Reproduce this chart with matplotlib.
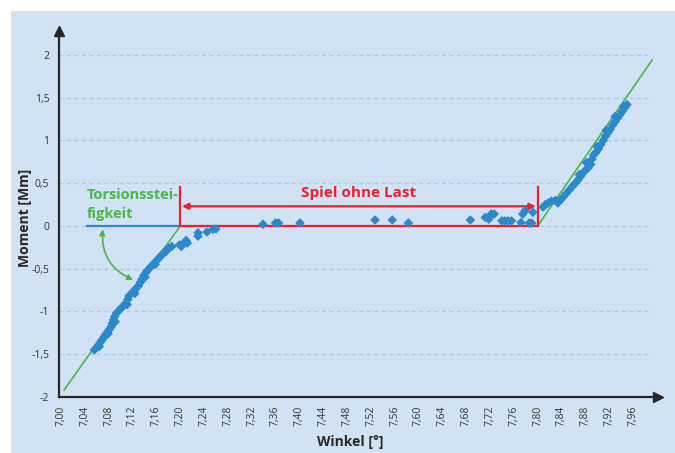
import matplotlib
matplotlib.use("Agg")
import matplotlib.pyplot as plt
from matplotlib.patches import Rectangle
from matplotlib.ticker import FuncFormatter

plt.rcParams['font.family'] = ['Open Sans', 'DejaVu Sans']

# measured points: Winkel [deg] / Moment [Mm]
angle_left = [7.056, 7.060, 7.063, 7.066, 7.069, 7.072, 7.075, 7.078, 7.081, 7.084,
              7.086, 7.088, 7.090, 7.093, 7.097, 7.101, 7.105, 7.109, 7.112, 7.114,
              7.118, 7.122, 7.126, 7.130, 7.133, 7.136, 7.139, 7.142, 7.145, 7.149,
              7.153, 7.157, 7.161, 7.165, 7.169, 7.173, 7.177, 7.181, 7.186, 7.199,
              7.202, 7.208, 7.210, 7.212, 7.230, 7.230, 7.245, 7.255, 7.260,
              7.064, 7.079, 7.091, 7.111, 7.124, 7.141, 7.158, 7.176]
moment_left = [-1.45, -1.42, -1.39, -1.36, -1.33, -1.30, -1.27, -1.24, -1.21, -1.18,
               -1.14, -1.10, -1.06, -1.02, -0.99, -0.96, -0.93, -0.90, -0.86, -0.82,
               -0.79, -0.76, -0.73, -0.70, -0.66, -0.62, -0.58, -0.55, -0.52, -0.49,
               -0.46, -0.43, -0.40, -0.37, -0.34, -0.31, -0.28, -0.26, -0.24, -0.22,
               -0.24, -0.19, -0.17, -0.20, -0.08, -0.12, -0.07, -0.04, -0.035,
               -1.41, -1.26, -1.12, -0.92, -0.79, -0.60, -0.45, -0.30]

angle_mid = [7.339, 7.360, 7.365, 7.401, 7.527, 7.556, 7.583, 7.687, 7.712, 7.718,
             7.722, 7.727, 7.740, 7.745, 7.750, 7.756, 7.772, 7.775, 7.779, 7.786,
             7.790, 7.792]
moment_mid = [0.02, 0.035, 0.035, 0.035, 0.07, 0.07, 0.035, 0.07, 0.10, 0.08,
              0.14, 0.14, 0.06, 0.06, 0.06, 0.06, 0.04, 0.14, 0.18, 0.035,
              0.035, 0.16]

angle_right = [7.809, 7.813, 7.818, 7.823, 7.830, 7.834, 7.838, 7.843, 7.848, 7.853,
               7.858, 7.863, 7.868, 7.872, 7.876, 7.880, 7.885, 7.889, 7.891, 7.894,
               7.898, 7.902, 7.906, 7.910, 7.914, 7.918, 7.922, 7.926, 7.930, 7.934,
               7.938, 7.942, 7.946, 7.950, 7.870, 7.882, 7.900, 7.915, 7.930, 7.944]
moment_right = [0.22, 0.25, 0.27, 0.29, 0.30, 0.27, 0.30, 0.34, 0.38, 0.42,
                0.46, 0.50, 0.54, 0.58, 0.62, 0.65, 0.68, 0.72, 0.78, 0.83,
                0.86, 0.90, 0.95, 1.00, 1.05, 1.09, 1.13, 1.18, 1.22, 1.26,
                1.30, 1.34, 1.38, 1.42, 0.60, 0.74, 0.93, 1.12, 1.28, 1.40]

# stiffness lines and play
stiff_left_x = [7.005, 7.20]
stiff_left_y = [-1.92, 0.0]
stiff_right_x = [7.80, 7.992]
stiff_right_y = [0.0, 1.94]
play_start, play_end = 7.20, 7.80

x_ticks = [7.00 + 0.04 * i for i in range(25)]
y_ticks = [-2, -1.5, -1, -0.5, 0, 0.5, 1, 1.5, 2]

blue = '#2b88cb'
green = '#4bb546'
red = '#e8212b'
bg = '#d0e2f3'
dark = '#262626'

fig = plt.figure(figsize=(6.75, 4.53), dpi=100, facecolor='white')
panel = Rectangle((11 / 675, 0), 1, 442 / 453, transform=fig.transFigure,
                  facecolor=bg, edgecolor='none', zorder=-10)
fig.add_artist(panel)

ax = fig.add_axes([59 / 675, 56 / 453, 599 / 675, 366 / 453])
ax.set_zorder(1)
ax.patch.set_alpha(0)
ax.set_xlim(6.9966, 8.002)
ax.set_ylim(-2, 2.28)

for s in ['top', 'right']:
    ax.spines[s].set_visible(False)
for s in ['left', 'bottom']:
    ax.spines[s].set_color(dark)
    ax.spines[s].set_linewidth(1.6)
ax.plot(1, -2, '>', color=dark, ms=7, transform=ax.get_yaxis_transform(), clip_on=False)
ax.plot(6.9966, 1, '^', color=dark, ms=7, transform=ax.get_xaxis_transform(), clip_on=False)

# grid
for yv in y_ticks[1:]:
    ax.plot([6.9966, 7.99], [yv, yv], ls=(0, (3, 3)), color='#a6c8e8', lw=0.9, zorder=1)

ax.set_xticks(x_ticks)
ax.set_yticks(y_ticks)
ax.xaxis.set_major_formatter(FuncFormatter(lambda v, p: f'{v:.2f}'.replace('.', ',')))
ax.yaxis.set_major_formatter(FuncFormatter(
    lambda v, p: ('%g' % v).replace('.', ',')))
ax.tick_params(axis='both', length=0, labelsize=7.5, colors='#333333')
ax.tick_params(axis='x', rotation=90, pad=6)
ax.tick_params(axis='y', pad=7)

ax.set_xlabel('Winkel [°]', fontsize=10, fontweight='bold', color=dark)
ax.set_ylabel('Moment [Mm]', fontsize=10, fontweight='bold', color=dark)
ax.xaxis.set_label_coords(0.486, -0.104)
ax.yaxis.set_label_coords(-0.045, 0.49)

# stiffness lines
ax.plot(stiff_left_x, stiff_left_y, color=green, lw=1.2, zorder=3)
ax.plot(stiff_right_x, stiff_right_y, color=green, lw=1.2, zorder=3)

# blue reference line
ax.plot([7.044, play_start], [0, 0], color=blue, lw=1.6, zorder=3)

# play region
ax.plot([play_start, play_start, play_end, play_end], [0.46, 0, 0, 0.46],
        color=red, lw=1.6, zorder=3)
ax.annotate('', xy=(play_end - 0.003, 0.23), xytext=(play_start + 0.003, 0.23),
            arrowprops=dict(arrowstyle='<|-|>', color=red, lw=1.6,
                            mutation_scale=9, shrinkA=0, shrinkB=0), zorder=4)
ax.text((play_start + play_end) / 2, 0.385, 'Spiel ohne Last', color=red,
        fontsize=11, fontweight='bold', ha='center', va='center')

# data
ax.scatter(angle_left + angle_mid + angle_right,
           moment_left + moment_mid + moment_right,
           marker='D', s=24, color=blue, edgecolors='none', zorder=5)

# annotation
ax.text(7.043, 0.36, 'Torsionsstei-', color=green, fontsize=10.5, fontweight='bold',
        ha='left', va='center')
ax.text(7.043, 0.14, 'figkeit', color=green, fontsize=10.5, fontweight='bold',
        ha='left', va='center')
ax.annotate('', xy=(7.121, -0.63), xytext=(7.070, -0.04),
            arrowprops=dict(arrowstyle='<|-|>', color=green, lw=1.2,
                            mutation_scale=8, shrinkA=0, shrinkB=0,
                            connectionstyle='arc3,rad=0.35'), zorder=4)

fig.savefig('out.png', dpi=100, facecolor='white')
